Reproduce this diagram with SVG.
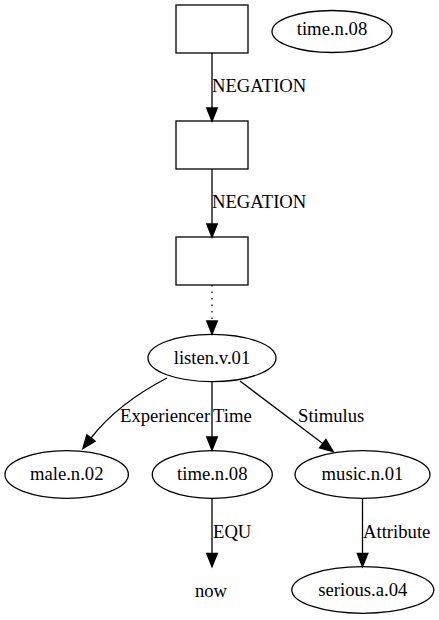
<svg xmlns="http://www.w3.org/2000/svg" width="439" height="620" viewBox="0 0 439 620">
<style>
.n{fill:none;stroke:#000;stroke-width:1.3}
.e{fill:none;stroke:#000;stroke-width:1.3}
text{font-family:"Liberation Serif","Times New Roman",serif;font-size:18.67px;fill:#000}
.c{text-anchor:middle}
</style>
<defs>
<marker id="ah" markerUnits="userSpaceOnUse" markerWidth="16" markerHeight="12" refX="0" refY="0" viewBox="0 -6 16 12" orient="auto" overflow="visible">
<path d="M0,-5.3 L13.3,0 L0,5.3 Z" fill="#000" stroke="#000" stroke-width="1.3"/>
</marker>
</defs>
<rect width="439" height="620" fill="#fff"/>
<g id="edges">
<g id="e1"><path class="e" d="M212,53 L212,108" marker-end="url(#ah)"/><text x="212" y="92">NEGATION</text></g>
<g id="e2"><path class="e" d="M212,169 L212,224" marker-end="url(#ah)"/><text x="212" y="208">NEGATION</text></g>
<g id="e3"><path class="e" d="M212,285 L212,321" stroke-dasharray="1.5,5" marker-end="url(#ah)"/></g>
<g id="e4"><path class="e" d="M167,378 C140,392 112,411 91,438" marker-end="url(#ah)"/><text x="120" y="422">Experiencer</text></g>
<g id="e5"><path class="e" d="M212,382 L212,437" marker-end="url(#ah)"/><text x="213" y="422">Time</text></g>
<g id="e6"><path class="e" d="M240,381 L322.7,443.6" marker-end="url(#ah)"/><text x="298" y="422">Stimulus</text></g>
<g id="e7"><path class="e" d="M212,499 L212,553.5" marker-end="url(#ah)"/><text x="213" y="538">EQU</text></g>
<g id="e8"><path class="e" d="M362.5,499 L362.5,553.5" marker-end="url(#ah)"/><text x="363" y="538">Attribute</text></g>
</g>
<g id="box1"><rect class="n" x="176" y="5" width="72" height="48"/></g>
<g id="time_top"><ellipse class="n" cx="332" cy="31.5" rx="60" ry="21"/><text class="c" x="332" y="35">time.n.08</text></g>
<g id="box2"><rect class="n" x="176" y="121" width="72" height="48"/></g>
<g id="box3"><rect class="n" x="176" y="237" width="72" height="48"/></g>
<g id="listen"><ellipse class="n" cx="212" cy="358" rx="64" ry="23.7"/><text class="c" x="212" y="363.5">listen.v.01</text></g>
<g id="male"><ellipse class="n" cx="66.7" cy="474.5" rx="61.7" ry="23.8"/><text class="c" x="66.7" y="480">male.n.02</text></g>
<g id="time"><ellipse class="n" cx="212.3" cy="474.5" rx="60" ry="23.8"/><text class="c" x="212.3" y="480">time.n.08</text></g>
<g id="music"><ellipse class="n" cx="362.5" cy="474.5" rx="67.5" ry="23.8"/><text class="c" x="362.5" y="480">music.n.01</text></g>
<g id="now"><text class="c" x="211" y="596.5">now</text></g>
<g id="serious"><ellipse class="n" cx="362.8" cy="590" rx="71" ry="23.3"/><text class="c" x="362.8" y="596">serious.a.04</text></g>
</svg>
